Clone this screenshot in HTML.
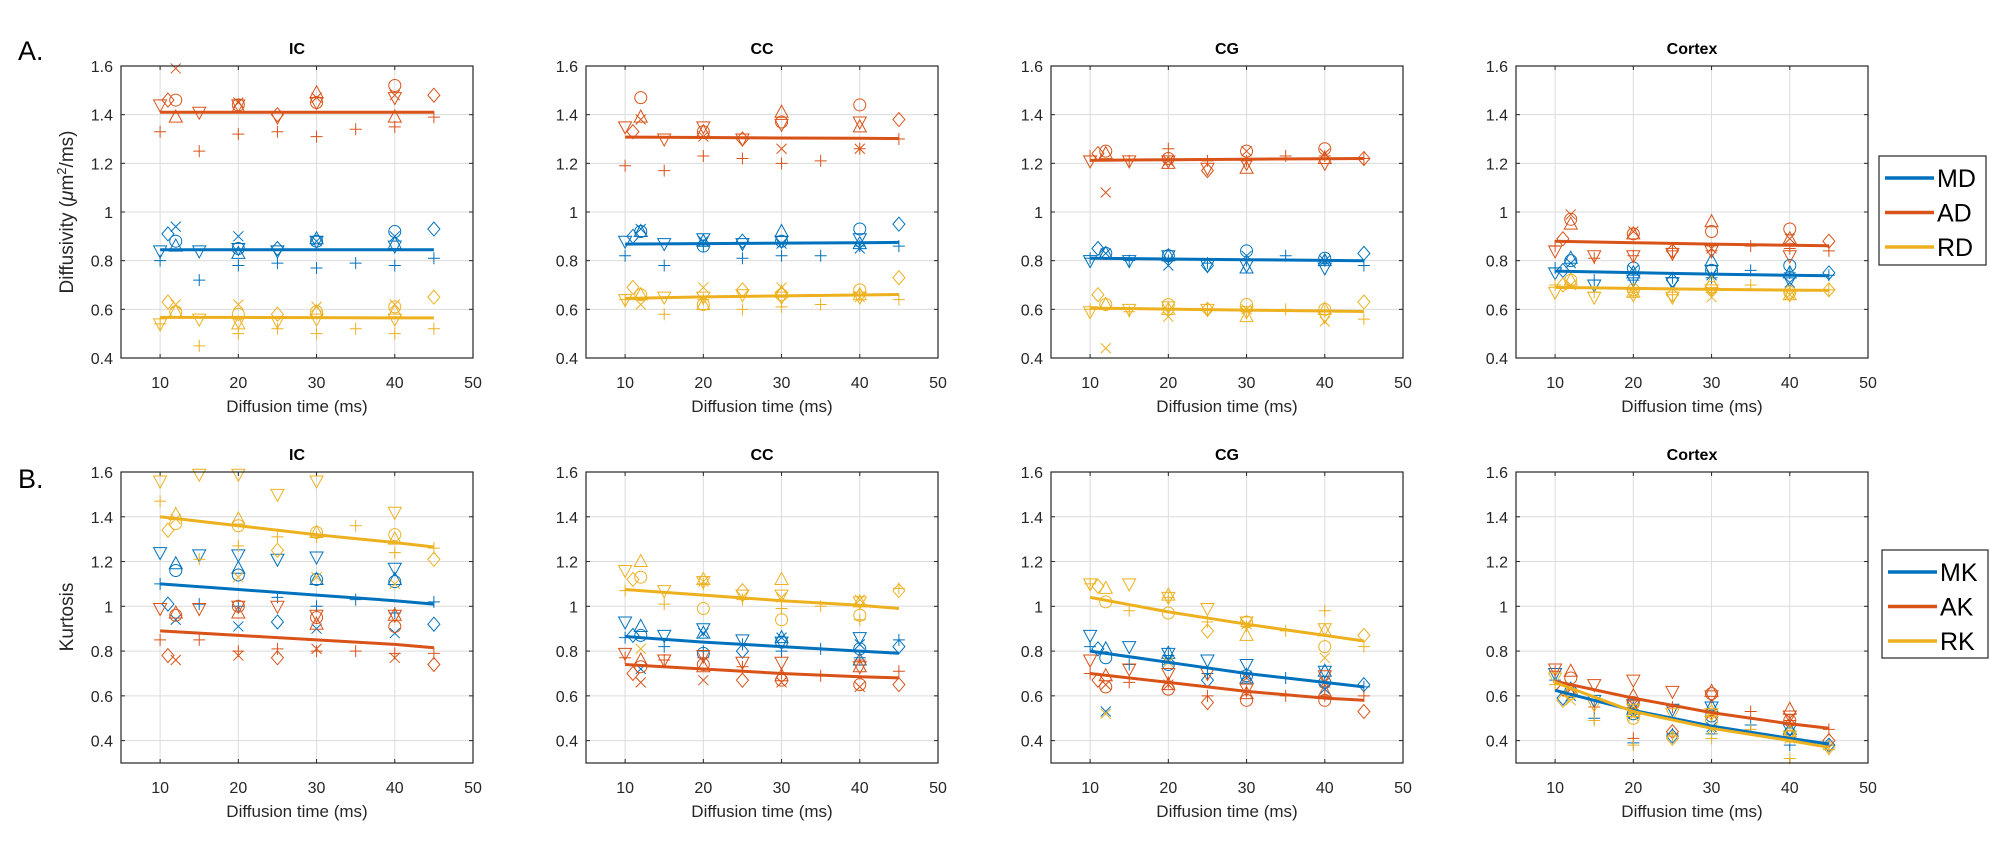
<!DOCTYPE html>
<html><head><meta charset="utf-8"><style>
html,body{margin:0;padding:0;background:#fff}
svg{display:block;font-family:"Liberation Sans",Arial,sans-serif}
</style></head><body>
<svg id="fig" width="2003" height="858" viewBox="0 0 2003 858" xmlns="http://www.w3.org/2000/svg">
<text x="18" y="60" font-size="27">A.</text>
<text x="18" y="488" font-size="27">B.</text>
</svg>
<script>
// ---- shared data ----
const regions = ["IC","CC","CG","Cortex"];
const rowAMetrics = ["MD","AD","RD"];
const rowBMetrics = ["MK","AK","RK"];
const xTicks = [10,20,30,40,50];
const yTicks = [0.4,0.6,0.8,1,1.2,1.4,1.6];
const yTickLabels = ["0.4","0.6","0.8","1","1.2","1.4","1.6"];
const markerTypes = ["plus","tridown","diamond","circle","triup","cross"];
const xPlus = [10,15,20,25,30,35,40,45];
const xTriDown = [10,15,20,25,30,40];
const xDiamond = [11,25,45];
const xCircle = [12,20,30,40];
const xTriUp = [12,20,30,40];
const xCross = [12,20,30,40];
const fitX = [10,20,30,40,45];

const A_IC_MD = [[0.80,0.72,0.78,0.79,0.77,0.79,0.78,0.81],[0.84,0.84,0.85,0.84,0.88,0.86],[0.91,0.85,0.93],[0.88,0.85,0.88,0.92],[0.86,0.83,0.89,0.87],[0.94,0.90,0.88,0.90]];
const A_IC_AD = [[1.33,1.25,1.32,1.33,1.31,1.34,1.35,1.39],[1.44,1.41,1.44,1.39,1.45,1.47],[1.46,1.40,1.48],[1.46,1.44,1.45,1.52],[1.39,1.43,1.49,1.39],[1.59,1.45,1.47,1.48]];
const A_IC_RD = [[0.54,0.45,0.50,0.52,0.50,0.52,0.50,0.52],[0.54,0.56,0.55,0.55,0.56,0.56],[0.63,0.58,0.65],[0.59,0.58,0.59,0.61],[0.59,0.54,0.59,0.59],[0.62,0.62,0.61,0.62]];
const A_IC_fit = [[0.845,0.845,0.845,0.845,0.845],[1.41,1.41,1.41,1.41,1.41],[0.567,0.567,0.566,0.565,0.565]];

const A_CC_MD = [[0.82,0.78,0.86,0.81,0.82,0.82,0.86,0.86],[0.88,0.87,0.89,0.87,0.88,0.89],[0.90,0.88,0.95],[0.92,0.86,0.88,0.93],[0.92,0.88,0.92,0.87],[0.93,0.88,0.87,0.85]];
const A_CC_AD = [[1.19,1.17,1.23,1.22,1.20,1.21,1.26,1.30],[1.35,1.30,1.35,1.30,1.36,1.37],[1.33,1.30,1.38],[1.47,1.33,1.37,1.44],[1.39,1.33,1.41,1.35],[1.38,1.31,1.26,1.26]];
const A_CC_RD = [[0.64,0.58,0.64,0.60,0.61,0.62,0.66,0.64],[0.64,0.65,0.65,0.66,0.65,0.65],[0.69,0.68,0.73],[0.66,0.62,0.66,0.68],[0.66,0.62,0.67,0.66],[0.62,0.69,0.69,0.65]];
const A_CC_fit = [[0.868,0.870,0.872,0.874,0.875],[1.308,1.306,1.304,1.303,1.302],[0.645,0.651,0.655,0.659,0.661]];

const A_CG_MD = [[0.81,0.80,0.80,0.79,0.80,0.82,0.80,0.78],[0.80,0.80,0.82,0.78,0.78,0.77],[0.85,0.78,0.83],[0.83,0.82,0.84,0.81],[0.83,0.82,0.77,0.80],[0.83,0.78,0.82,0.80]];
const A_CG_AD = [[1.23,1.21,1.26,1.21,1.21,1.23,1.23,1.22],[1.21,1.21,1.21,1.18,1.20,1.20],[1.24,1.17,1.22],[1.25,1.22,1.25,1.26],[1.24,1.20,1.18,1.22],[1.08,1.21,1.25,1.24]];
const A_CG_RD = [[0.60,0.59,0.60,0.60,0.59,0.60,0.59,0.56],[0.59,0.60,0.61,0.60,0.59,0.57],[0.66,0.60,0.63],[0.62,0.62,0.62,0.60],[0.62,0.60,0.57,0.60],[0.44,0.57,0.60,0.55]];
const A_CG_fit = [[0.810,0.807,0.804,0.801,0.800],[1.212,1.215,1.217,1.219,1.220],[0.605,0.601,0.597,0.593,0.591]];

const A_CX_MD = [[0.77,0.72,0.72,0.73,0.73,0.76,0.75,0.74],[0.75,0.70,0.72,0.71,0.76,0.72],[0.76,0.72,0.75],[0.80,0.77,0.76,0.78],[0.81,0.75,0.80,0.75],[0.79,0.76,0.74,0.71]];
const A_CX_AD = [[0.86,0.81,0.82,0.84,0.84,0.86,0.85,0.84],[0.84,0.82,0.82,0.83,0.84,0.82],[0.89,0.84,0.88],[0.97,0.91,0.92,0.93],[0.95,0.91,0.96,0.89],[0.99,0.92,0.85,0.89]];
const A_CX_RD = [[0.70,0.67,0.67,0.66,0.67,0.70,0.68,0.68],[0.67,0.65,0.66,0.65,0.68,0.66],[0.70,0.66,0.68],[0.72,0.68,0.69,0.67],[0.72,0.67,0.71,0.66],[0.70,0.67,0.65,0.66]];
const A_CX_fit = [[0.757,0.751,0.745,0.740,0.738],[0.880,0.874,0.868,0.863,0.861],[0.690,0.686,0.682,0.679,0.678]];

const B_IC_MK = [[1.10,1.01,1.00,1.04,1.00,1.03,0.97,1.02],[1.24,1.23,1.23,1.21,1.22,1.17],[1.01,0.93,0.92],[1.16,1.14,1.12,1.11],[1.19,1.17,1.12,1.12],[0.94,0.91,0.90,0.88]];
const B_IC_AK = [[0.85,0.85,0.80,0.81,0.80,0.80,0.79,0.79],[0.99,0.99,1.00,1.00,0.96,0.96],[0.78,0.77,0.74],[0.96,1.00,0.95,0.91],[0.97,0.97,0.92,0.96],[0.76,0.78,0.81,0.77]];
const B_IC_RK = [[1.47,1.21,1.27,1.31,1.31,1.36,1.24,1.26],[1.56,1.59,1.59,1.50,1.56,1.42],[1.34,1.25,1.21],[1.37,1.36,1.33,1.32],[1.41,1.39,1.33,1.30],[1.39,1.13,1.13,1.10]];
const B_IC_fit = [[1.10,1.075,1.05,1.025,1.01],[0.89,0.87,0.85,0.83,0.815],[1.40,1.36,1.32,1.285,1.265]];

const B_CC_MK = [[0.86,0.82,0.80,0.83,0.80,0.81,0.77,0.85],[0.93,0.87,0.90,0.85,0.84,0.86],[0.87,0.80,0.82],[0.87,0.79,0.84,0.81],[0.91,0.88,0.86,0.76],[0.72,0.88,0.86,0.83]];
const B_CC_AK = [[0.77,0.76,0.77,0.73,0.70,0.69,0.76,0.71],[0.79,0.76,0.78,0.75,0.75,0.73],[0.70,0.67,0.65],[0.73,0.74,0.67,0.65],[0.76,0.73,0.69,0.73],[0.66,0.67,0.66,0.64]];
const B_CC_RK = [[1.07,1.01,1.10,1.03,0.99,1.00,0.94,1.08],[1.16,1.07,1.11,1.05,1.05,1.02],[1.12,1.07,1.07],[1.13,0.99,0.94,0.96],[1.20,1.12,1.12,1.02],[0.81,1.11,1.04,1.03]];
const B_CC_fit = [[0.865,0.84,0.82,0.80,0.79],[0.74,0.72,0.70,0.685,0.68],[1.075,1.05,1.025,1.005,0.99]];

const B_CG_MK = [[0.82,0.74,0.78,0.70,0.70,0.68,0.66,0.64],[0.87,0.82,0.79,0.76,0.74,0.71],[0.81,0.67,0.65],[0.77,0.74,0.69,0.66],[0.81,0.79,0.68,0.71],[0.53,0.76,0.69,0.63]];
const B_CG_AK = [[0.70,0.66,0.66,0.60,0.62,0.60,0.60,0.60],[0.76,0.72,0.70,0.70,0.63,0.69],[0.67,0.57,0.53],[0.64,0.63,0.58,0.58],[0.69,0.65,0.61,0.62],[0.65,0.65,0.68,0.66]];
const B_CG_RK = [[1.10,0.98,1.04,0.93,0.91,0.89,0.98,0.82],[1.10,1.10,1.04,0.99,0.93,0.90],[1.09,0.89,0.87],[1.02,0.97,0.93,0.82],[1.08,1.05,0.87,0.89],[0.52,0.75,0.92,0.77]];
const B_CG_fit = [[0.80,0.75,0.70,0.66,0.64],[0.70,0.66,0.62,0.59,0.58],[1.04,0.975,0.92,0.87,0.845]];

const B_CX_MK = [[0.67,0.50,0.39,0.43,0.43,0.47,0.38,0.38],[0.70,0.58,0.56,0.54,0.55,0.45],[0.59,0.42,0.38],[0.62,0.52,0.51,0.43],[0.63,0.54,0.55,0.45],[0.60,0.52,0.46,0.42]];
const B_CX_AK = [[0.71,0.55,0.41,0.55,0.51,0.53,0.49,0.45],[0.72,0.65,0.67,0.62,0.60,0.51],[0.63,0.44,0.40],[0.68,0.57,0.61,0.49],[0.71,0.60,0.62,0.54],[0.63,0.56,0.52,0.50]];
const B_CX_RK = [[0.65,0.49,0.38,0.42,0.41,0.45,0.32,0.36],[0.68,0.56,0.54,0.52,0.52,0.42],[0.58,0.41,0.37],[0.61,0.50,0.49,0.42],[0.62,0.53,0.53,0.44],[0.58,0.51,0.45,0.41]];
const B_CX_fit = [[0.625,0.535,0.465,0.41,0.385],[0.665,0.59,0.525,0.475,0.455],[0.66,0.53,0.455,0.40,0.37]];

const colors = ["#0072BD","#D95319","#EDB120"];
const NS = "http://www.w3.org/2000/svg";
const svg = document.getElementById("fig");
const markerX = [xPlus,xTriDown,xDiamond,xCircle,xTriUp,xCross];
const panelLefts = [121,586,1051,1516];
const PW = 352;

function mk(tag, attrs, parent){
  const e = document.createElementNS(NS, tag);
  for (const k in attrs) e.setAttribute(k, attrs[k]);
  (parent||svg).appendChild(e);
  return e;
}
function drawMarker(g, type, cx, cy, color){
  const r = 6;
  let e;
  if (type==="plus") e = mk("path",{d:`M${cx-r} ${cy}H${cx+r}M${cx} ${cy-r}V${cy+r}`},g);
  else if (type==="cross") e = mk("path",{d:`M${cx-5} ${cy-5}L${cx+5} ${cy+5}M${cx-5} ${cy+5}L${cx+5} ${cy-5}`},g);
  else if (type==="circle") e = mk("circle",{cx:cx,cy:cy,r:r},g);
  else if (type==="diamond") e = mk("path",{d:`M${cx} ${cy-7}L${cx+6} ${cy}L${cx} ${cy+7}L${cx-6} ${cy}Z`},g);
  else if (type==="triup") e = mk("path",{d:`M${cx} ${cy-7}L${cx+6.5} ${cy+5}L${cx-6.5} ${cy+5}Z`},g);
  else e = mk("path",{d:`M${cx} ${cy+7}L${cx+6.5} ${cy-5}L${cx-6.5} ${cy-5}Z`},g);
  e.setAttribute("fill","none");
  e.setAttribute("stroke",color);
  e.setAttribute("stroke-width","1");
  
  
}

function drawPanel(rowIdx, colIdx, series, fits, metrics){
  const left = panelLefts[colIdx], right = left + PW;
  const top = rowIdx===0 ? 66 : 472;
  const yMin = rowIdx===0 ? 0.4 : 0.3, yMax = 1.6;
  const bottom = rowIdx===0 ? 358 : 763;
  const xs = v => left + (v-5)/(50-5)*PW;
  const ys = v => bottom - (v-yMin)/(yMax-yMin)*(bottom-top);
  const g = mk("g",{});
  
  
  mk("rect",{x:left,y:top,width:PW,height:bottom-top,fill:"#fff"},g);
  xTicks.forEach(t=>{
    const x = xs(t);
    const l = mk("line",{x1:x,y1:top,x2:x,y2:bottom,stroke:"#dcdcdc","stroke-width":1},g);
     
    mk("line",{x1:x,y1:bottom,x2:x,y2:bottom-4,stroke:"#262626"},g);
    mk("line",{x1:x,y1:top,x2:x,y2:top+4,stroke:"#262626"},g);
    const tx = mk("text",{x:x,y:bottom+30,"font-size":16,"text-anchor":"middle",fill:"#262626"},g);
    tx.textContent = String(t);
     
  });
  yTicks.forEach((t,i)=>{
    const y = ys(t);
    const l = mk("line",{x1:left,y1:y,x2:right,y2:y,stroke:"#dcdcdc","stroke-width":1},g);
     
    mk("line",{x1:left,y1:y,x2:left+4,y2:y,stroke:"#262626"},g);
    mk("line",{x1:right,y1:y,x2:right-4,y2:y,stroke:"#262626"},g);
    const tx = mk("text",{x:left-8,y:y+6,"font-size":16,"text-anchor":"end",fill:"#262626"},g);
    tx.textContent = yTickLabels[i];
     
  });
  series.forEach((ser,si)=>{
    ser.forEach((vals,mi)=>{
      vals.forEach((v,k)=>{ drawMarker(g, markerTypes[mi], xs(markerX[mi][k]), ys(v), colors[si]); });
    });
  });
  fits.forEach((f,si)=>{
    const pts = f.map((v,k)=>xs(fitX[k]).toFixed(1)+","+ys(v).toFixed(1)).join(" ");
    const pl = mk("polyline",{points:pts,fill:"none",stroke:colors[si],"stroke-width":3},g);
    
    
  });
  mk("rect",{x:left,y:top,width:PW,height:bottom-top,fill:"none",stroke:"#262626","stroke-width":1.2},g);
  const title = mk("text",{x:left+PW/2,y:top-12,"font-size":16,"font-weight":"bold","text-anchor":"middle",fill:"#000"},g);
  title.textContent = regions[colIdx];
   
  const xl = mk("text",{x:left+PW/2,y:bottom+54,"font-size":17,"text-anchor":"middle",fill:"#262626"},g);
  xl.textContent = "Diffusion time (ms)";
   
}

drawPanel(0,0,[A_IC_MD,A_IC_AD,A_IC_RD],A_IC_fit,rowAMetrics);
drawPanel(0,1,[A_CC_MD,A_CC_AD,A_CC_RD],A_CC_fit,rowAMetrics);
drawPanel(0,2,[A_CG_MD,A_CG_AD,A_CG_RD],A_CG_fit,rowAMetrics);
drawPanel(0,3,[A_CX_MD,A_CX_AD,A_CX_RD],A_CX_fit,rowAMetrics);
drawPanel(1,0,[B_IC_MK,B_IC_AK,B_IC_RK],B_IC_fit,rowBMetrics);
drawPanel(1,1,[B_CC_MK,B_CC_AK,B_CC_RK],B_CC_fit,rowBMetrics);
drawPanel(1,2,[B_CG_MK,B_CG_AK,B_CG_RK],B_CG_fit,rowBMetrics);
drawPanel(1,3,[B_CX_MK,B_CX_AK,B_CX_RK],B_CX_fit,rowBMetrics);

const ya = mk("text",{x:0,y:0,"font-size":19,"text-anchor":"middle",fill:"#262626",transform:"translate(73,212) rotate(-90)"});
ya.innerHTML = 'Diffusivity (<tspan font-style="italic">μ</tspan>m<tspan dy="-7" font-size="13">2</tspan><tspan dy="7">/ms)</tspan>';
 
const yb = mk("text",{x:0,y:0,"font-size":19,"text-anchor":"middle",fill:"#262626",transform:"translate(73,617) rotate(-90)"});
yb.textContent = "Kurtosis";
 

function legend(x,y,w,h,labels,name){
  const g = mk("g",{});
  
  
  mk("rect",{x:x,y:y,width:w,height:h,fill:"#fff",stroke:"#262626","stroke-width":1.2},g);
  labels.forEach((lab,i)=>{
    const cy = y + 22 + i*34.5;
    const l = mk("line",{x1:x+6,y1:cy,x2:x+55,y2:cy,stroke:colors[i],"stroke-width":3.5},g);
     
    const t = mk("text",{x:x+58,y:cy+9,"font-size":25,fill:"#000"},g);
    t.textContent = lab;
     
  });
}
legend(1879,156,107,109,rowAMetrics,"legend-diffusivity");
legend(1882,550,106,108,rowBMetrics,"legend-kurtosis");
</script>
</body></html>
